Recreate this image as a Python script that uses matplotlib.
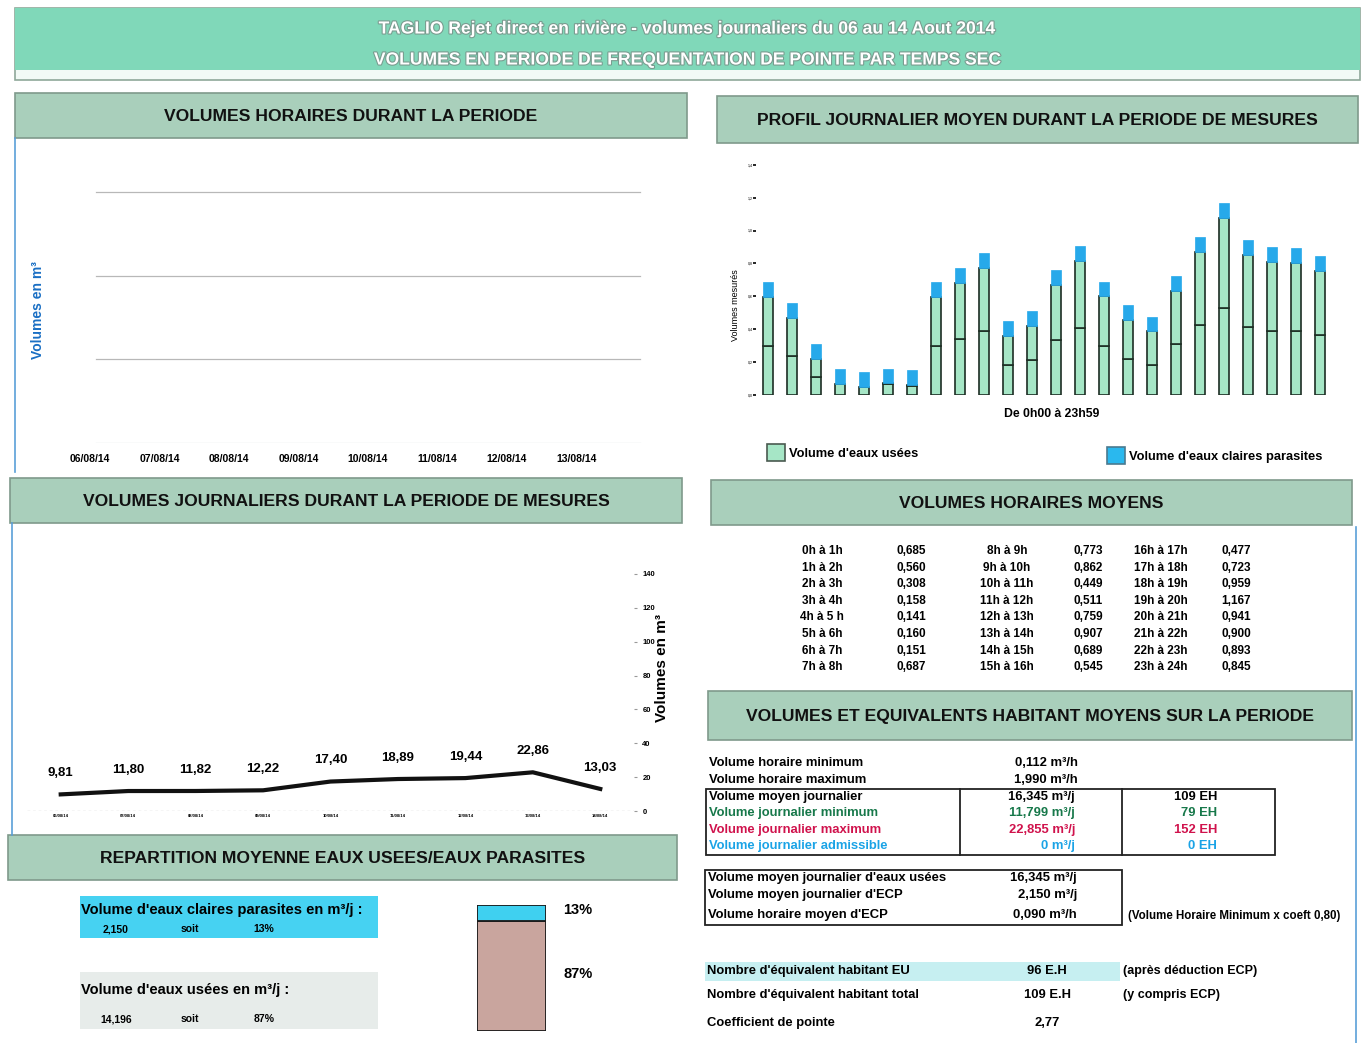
import numpy as np
import matplotlib
matplotlib.use("Agg")
import matplotlib.pyplot as plt
from matplotlib import font_manager
from matplotlib.patches import Rectangle
import matplotlib.patheffects as pe

W, H = 1364, 1043

# ---- data ----
hour_labels = ['0h à 1h', '1h à 2h', '2h à 3h', '3h à 4h', '4h à 5 h', '5h à 6h', '6h à 7h', '7h à 8h',
               '8h à 9h', '9h à 10h', '10h à 11h', '11h à 12h', '12h à 13h', '13h à 14h', '14h à 15h', '15h à 16h',
               '16h à 17h', '17h à 18h', '18h à 19h', '19h à 20h', '20h à 21h', '21h à 22h', '22h à 23h', '23h à 24h']
hour_values = [0.685, 0.560, 0.308, 0.158, 0.141, 0.160, 0.151, 0.687,
               0.773, 0.862, 0.449, 0.511, 0.759, 0.907, 0.689, 0.545,
               0.477, 0.723, 0.959, 1.167, 0.941, 0.900, 0.893, 0.845]
ecp_hourly = 0.090
# inner line inside the green bars
hour_lower = [0.30, 0.24, 0.11, 0.065, 0.047, 0.067, 0.055, 0.30,
              0.34, 0.39, 0.18, 0.21, 0.335, 0.405, 0.295, 0.22,
              0.18, 0.31, 0.425, 0.53, 0.415, 0.39, 0.39, 0.365]

period_dates = ['06/08/14', '07/08/14', '08/08/14', '09/08/14', '10/08/14', '11/08/14', '12/08/14', '13/08/14']

daily_dates = ['06/08/14', '07/08/14', '08/08/14', '09/08/14', '10/08/14', '11/08/14', '12/08/14', '13/08/14', '14/08/14']
daily_values = [9.81, 11.80, 11.82, 12.22, 17.40, 18.89, 19.44, 22.86, 13.03]

stats_top = [("Volume horaire minimum", "0,112 m³/h"), ("Volume horaire maximum", "1,990 m³/h")]
stats_box = [("Volume moyen journalier", "16,345 m³/j", "109 EH", "black"),
             ("Volume journalier minimum", "11,799 m³/j", "79 EH", "#17784a"),
             ("Volume journalier maximum", "22,855 m³/j", "152 EH", "#d0124c"),
             ("Volume journalier admissible", "0 m³/j", "0 EH", "#1aa3e6")]
stats_box2 = [("Volume moyen journalier d'eaux usées", "16,345 m³/j"),
              ("Volume moyen journalier d'ECP", "2,150 m³/j"),
              ("Volume horaire moyen d'ECP", "0,090 m³/h")]
eh_rows = [("Nombre d'équivalent habitant EU", "96 E.H", "(après déduction ECP)"),
           ("Nombre d'équivalent habitant total", "109 E.H", "(y compris ECP)"),
           ("Coefficient de pointe", "2,77", "")]

ecp_daily, eu_daily = "2,150", "14,196"
ecp_pct, eu_pct = 13, 87

# ---- fonts / colours ----
names = {f.name for f in font_manager.fontManager.ttflist}
NARROW = 'Liberation Sans Narrow' if 'Liberation Sans Narrow' in names else 'Liberation Sans'
plt.rcParams['font.family'] = ['Liberation Sans', 'DejaVu Sans']

mint = '#80d8b9'
sect = '#a9cfbb'
green_bar = '#a6e6c6'
blue_bar = '#27a9ea'
frame_blue = '#5a9fd8'

fig = plt.figure(figsize=(W / 100, H / 100), dpi=100)
bg = fig.add_axes([0, 0, 1, 1])
bg.set_xlim(0, W)
bg.set_ylim(H, 0)
bg.axis('off')


def px_axes(x0, y0, x1, y1):
    ax = fig.add_axes([x0 / W, 1 - y1 / H, (x1 - x0) / W, (y1 - y0) / H])
    ax.set_facecolor('none')
    return ax


def box(x0, y0, x1, y1, fc, ec='none', lw=1.0):
    bg.add_patch(Rectangle((x0, y0), x1 - x0, y1 - y0, facecolor=fc, edgecolor=ec, lw=lw))


def header(x0, y0, x1, y1, title):
    box(x0, y0, x1, y1, sect, ec='#7f9a8b', lw=1.2)
    bg.text((x0 + x1) / 2, (y0 + y1) / 2 + 1, title, ha='center', va='center',
            fontsize=12.6, fontweight='bold', family=NARROW, color='#111111')


# ---- title band ----
box(15, 8, 1360, 80, '#f2faf6', ec='#8fa89a', lw=1.2)
box(15, 8, 1360, 70, mint)
outline = [pe.withStroke(linewidth=1.6, foreground='#7a9c90')]
bg.text(687, 29, "TAGLIO Rejet direct en rivière - volumes journaliers du 06 au 14 Aout 2014",
        ha='center', va='center', fontsize=12.6, fontweight='bold', family=NARROW, color='white', path_effects=outline)
bg.text(687, 60, "VOLUMES EN PERIODE DE FREQUENTATION DE POINTE PAR TEMPS SEC",
        ha='center', va='center', fontsize=12.6, fontweight='bold', family=NARROW, color='white', path_effects=outline)

# ---- section headers ----
header(15, 93, 687, 138, "VOLUMES HORAIRES DURANT LA PERIODE")
header(717, 96, 1358, 143, "PROFIL JOURNALIER MOYEN DURANT LA PERIODE DE MESURES")
header(10, 478, 682, 523, "VOLUMES JOURNALIERS DURANT LA PERIODE DE MESURES")
header(711, 480, 1352, 525, "VOLUMES HORAIRES MOYENS")
header(708, 691, 1352, 740, "VOLUMES ET EQUIVALENTS HABITANT MOYENS SUR LA PERIODE")
header(8, 835, 677, 880, "REPARTITION MOYENNE EAUX USEES/EAUX PARASITES")

# light blue frame lines
bg.plot([15, 15], [138, 472], color=frame_blue, lw=1.2)
bg.plot([12, 12], [523, 835], color=frame_blue, lw=1.2)
bg.plot([1356, 1356], [527, 1043], color=frame_blue, lw=1.2)

# ---- chart 1 : hourly volumes over the period (empty) ----
ax1 = px_axes(90, 150, 646, 443)
ax1.set_xlim(0, 8)
ax1.set_ylim(0, 3.5)
for yv in [1, 2, 3]:
    ax1.axhline(yv, xmin=0.01, xmax=0.99, color='#b8b8b8', lw=0.9)
ax1.axhline(0, xmin=0.01, xmax=0.99, color='#e3e8e6', lw=1.0)
ax1.set_xticks(range(8))
ax1.set_xticklabels(period_dates, fontsize=7.5, fontweight='bold', family=NARROW)
ax1.tick_params(axis='x', length=0, pad=8)
ax1.set_yticks([])
for s in ax1.spines.values():
    s.set_visible(False)
bg.text(38, 310, "Volumes en m³", rotation=90, ha='center', va='center',
        fontsize=10, fontweight='bold', color='#1a6fc4')

# ---- chart 2 : mean daily profile ----
ax2 = px_axes(756, 160, 1332, 395)
x = np.arange(len(hour_values))
vals = np.array(hour_values)
lower = np.array(hour_lower)
eu = vals - ecp_hourly
ax2.bar(x, lower, width=0.42, color=green_bar, edgecolor='#1d2e24', lw=1.2)
ax2.bar(x, eu - lower, bottom=lower, width=0.42, color=green_bar, edgecolor='#1d2e24', lw=1.2)
ax2.bar(x, np.full(len(x), ecp_hourly), bottom=eu, width=0.42, color=blue_bar, edgecolor=blue_bar, lw=0.5)
ax2.set_xlim(-0.5, 23.5)
ax2.set_ylim(0, 1.4286)
yt = np.arange(0, 1.41, 0.2)
ax2.set_yticks(yt)
ax2.set_yticklabels([f"{v:.1f}".replace('.', ',') for v in yt], fontsize=2.5)
ax2.tick_params(axis='y', length=2, width=1.2, pad=0.5)
ax2.set_xticks([])
for s in ax2.spines.values():
    s.set_visible(False)
bg.text(1052, 414, "De 0h00 à 23h59", ha='center', va='center', fontsize=8.8, fontweight='bold', family=NARROW)
bg.text(736, 305, "Volumes mesurés", rotation=90, ha='center', va='center', fontsize=6.5, family=NARROW)
box(767, 444, 785, 461, green_bar, ec='#4a5a50', lw=1.2)
bg.text(789, 454, "Volume d'eaux usées", ha='left', va='center', fontsize=9.3, fontweight='bold')
box(1107, 447, 1125, 464, '#2ab8ee', ec='#4a7a90', lw=1.2)
bg.text(1129, 457, "Volume d'eaux claires parasites", ha='left', va='center', fontsize=9.3, fontweight='bold')

# ---- chart 3 : daily volumes ----
ax3 = px_axes(27, 574, 634, 811)
xd = np.arange(len(daily_values))
ax3.plot(xd, daily_values, color='#111111', lw=3, solid_joinstyle='round')
for xi, v in zip(xd, daily_values):
    ax3.annotate(f"{v:.2f}".replace('.', ','), (xi, v), xytext=(0, 11), textcoords='offset points',
                 ha='center', va='bottom', fontsize=9.5, fontweight='bold', family=NARROW)
ax3.set_xlim(-0.5, 8.5)
ax3.set_ylim(0, 140)
ax3.axhline(0, color='#d0d0d0', lw=1, ls=(0, (2, 2)))
ax3.yaxis.tick_right()
ax3.set_yticks(range(0, 141, 20))
ax3.set_yticklabels([str(v) for v in range(0, 141, 20)], fontsize=5.5, fontweight='bold')
ax3.tick_params(axis='y', length=2, color='#999999', pad=4)
ax3.set_xticks(xd)
ax3.set_xticklabels(daily_dates, fontsize=3, fontweight='bold')
ax3.tick_params(axis='x', length=0, pad=2)
for s in ax3.spines.values():
    s.set_visible(False)
bg.text(662, 668, "Volumes en m³", rotation=90, ha='center', va='center', fontsize=11, fontweight='bold')

# ---- hourly mean table ----
col_x = [(822, 911), (1007, 1088), (1161, 1236)]
for i, (lab, v) in enumerate(zip(hour_labels, hour_values)):
    c, r = divmod(i, 8)
    yy = 551 + 16.6 * r
    bg.text(col_x[c][0], yy, lab, ha='center', va='center', fontsize=8.5, fontweight='bold', family=NARROW)
    bg.text(col_x[c][1], yy, f"{v:.3f}".replace('.', ','), ha='center', va='center',
            fontsize=8.5, fontweight='bold', family=NARROW)

# ---- equivalents habitant ----
fs = 9.4
for i, (lab, val) in enumerate(stats_top):
    yy = 763 + 17 * i
    bg.text(709, yy, lab, ha='left', va='center', fontsize=fs, fontweight='bold')
    bg.text(1078, yy, val, ha='right', va='center', fontsize=fs, fontweight='bold', family=NARROW)

box(706, 789, 1275, 855, 'none', ec='#222222', lw=1.3)
bg.plot([960, 960], [789, 855], color='#222222', lw=1.3)
bg.plot([1122, 1122], [789, 855], color='#222222', lw=1.3)
for i, (lab, val, eh, col) in enumerate(stats_box):
    yy = 797 + 16.3 * i
    bg.text(709, yy, lab, ha='left', va='center', fontsize=fs, fontweight='bold', color=col)
    bg.text(1075, yy, val, ha='right', va='center', fontsize=fs, fontweight='bold', family=NARROW, color=col)
    bg.text(1217, yy, eh, ha='right', va='center', fontsize=fs, fontweight='bold', family=NARROW, color=col)

box(705, 870, 1122, 925, 'none', ec='#222222', lw=1.3)
for (lab, val), yy in zip(stats_box2, [878, 895, 915]):
    bg.text(708, yy, lab, ha='left', va='center', fontsize=fs, fontweight='bold')
    bg.text(1077, yy, val, ha='right', va='center', fontsize=fs, fontweight='bold', family=NARROW)
bg.text(1128, 916, "(Volume Horaire Minimum x coeft 0,80)", ha='left', va='center',
        fontsize=8.3, fontweight='bold', family=NARROW)

box(705, 962, 1120, 981, '#c6eff1')
for (lab, val, note), yy in zip(eh_rows, [971, 995, 1023]):
    bg.text(707, yy, lab, ha='left', va='center', fontsize=fs, fontweight='bold')
    bg.text(1047, yy, val, ha='center', va='center', fontsize=fs, fontweight='bold', family=NARROW)
    if note:
        bg.text(1123, yy, note, ha='left', va='center', fontsize=9, fontweight='bold', family=NARROW)

# ---- repartition ----
box(80, 896, 378, 938, '#46d2f2')
bg.text(81, 910, "Volume d'eaux claires parasites en m³/j :", ha='left', va='center',
        fontsize=10.5, fontweight='bold', family=NARROW)
bg.text(116, 929, ecp_daily, ha='center', va='center', fontsize=7.5, fontweight='bold', family=NARROW)
bg.text(190, 929, "soit", ha='center', va='center', fontsize=7.5, fontweight='bold', family=NARROW)
bg.text(264, 929, f"{ecp_pct}%", ha='center', va='center', fontsize=7.5, fontweight='bold', family=NARROW)

box(80, 972, 378, 1029, '#e7ecea')
bg.text(81, 990, "Volume d'eaux usées en m³/j :", ha='left', va='center',
        fontsize=10.5, fontweight='bold', family=NARROW)
bg.text(116, 1019, eu_daily, ha='center', va='center', fontsize=7.5, fontweight='bold', family=NARROW)
bg.text(190, 1019, "soit", ha='center', va='center', fontsize=7.5, fontweight='bold', family=NARROW)
bg.text(264, 1019, f"{eu_pct}%", ha='center', va='center', fontsize=7.5, fontweight='bold', family=NARROW)

ax4 = px_axes(477, 905, 546, 1031)
ax4.bar([0], [eu_pct], width=1.0, color='#c9a59e', edgecolor='#1a1a1a', lw=1.3)
ax4.bar([0], [ecp_pct], bottom=[eu_pct], width=1.0, color='#3fd0f0', edgecolor='#1a1a1a', lw=1.3)
ax4.set_xlim(-0.5, 0.5)
ax4.set_ylim(0, 100)
ax4.axis('off')
bg.text(563, 910, f"{ecp_pct}%", ha='left', va='center', fontsize=10.5, fontweight='bold')
bg.text(563, 974, f"{eu_pct}%", ha='left', va='center', fontsize=10.5, fontweight='bold')

fig.savefig("out.png", dpi=100)
